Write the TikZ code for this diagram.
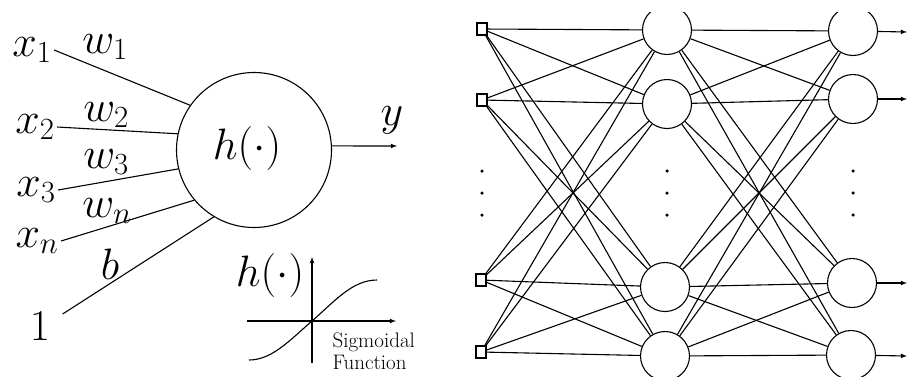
\documentclass[tikz,border=0pt]{standalone}
\usepackage{fix-cm}
\usepackage{tikz}
\usetikzlibrary{positioning}

\begin{document}
\begin{tikzpicture}[>=latex,x=1pt,y=-1pt,line width=1.1pt,
        lbl/.style={inner sep=2pt,font=\fontsize{44}{48}\selectfont},
        neuron/.style={draw,circle,inner sep=0pt,minimum size=49pt},
        inbox/.style={draw,rectangle,inner sep=0pt,minimum width=10pt,minimum height=12pt},
        vdot/.style={circle,fill,inner sep=0pt,minimum size=3.5pt}]
    \useasboundingbox (0,0) rectangle (908,376);

    % single neuron
    \node[draw,circle,inner sep=0pt,minimum size=155pt] (cell) at (254,150) {};
    \node[lbl] (hcell) at (247,148) {$h(\cdot)$};
    \node[lbl] (x1) at (32,50) {$x_1$};
    \node[lbl] (x2) at (35,127) {$x_2$};
    \node[lbl] (x3) at (36,190) {$x_3$};
    \node[lbl] (xn) at (37,241) {$x_n$};
    \node[lbl] (one) at (40,326) {$1$};
    \node[lbl] (w1) at (105,47) {$w_1$};
    \node[lbl] (w2) at (106,115) {$w_2$};
    \node[lbl] (w3) at (106,162) {$w_3$};
    \node[lbl] (wn) at (107,211) {$w_n$};
    \node[lbl] (b) at (110,264) {$b$};
    \node[lbl] (y) at (392,120) {$y$};
    \coordinate (yend) at (397,146);
    \draw (x1.east) -- (cell.145);
    \draw (x2.east) -- (cell.168);
    \draw (x3.east) -- (cell.194);
    \draw (xn.east) -- (cell.220);
    \draw ([xshift=10pt,yshift=12pt]one.east) -- (cell.239);
    \draw[->] (cell.3) -- (yend);

    % sigmoid sketch
    \coordinate (vbot) at (312,363);
    \coordinate (vtop) at (312,257);
    \coordinate (hleft) at (247,321);
    \coordinate (hright) at (396,321);
    \draw[->] (vbot) -- (vtop);
    \draw[->] (hleft) -- (hright);
    \draw (249,360) .. controls (272,360) and (290,340) .. (312,321)
        .. controls (334,302) and (352,280) .. (377,280);
    \node[lbl] (hsig) at (270,275) {$h(\cdot)$};
    \node[anchor=north west,inner sep=0pt,align=left,
        font=\fontsize{21}{22}\selectfont] (sigtxt) at (332,332) {Sigmoidal\\Function};

    % network
    \begin{scope}
        \clip (470,12) rectangle (908,376);
        \foreach \n/\x/\y in {1/482/29,2/482/100,3/481/280,4/481/352}
            \node[inbox] (i\n) at (\x,\y) {};
        \foreach \n/\x/\y in {1/667/30,2/667/104,3/665/287,4/665/356}
            \node[neuron] (h\n) at (\x,\y) {};
        \foreach \n/\x/\y in {1/853/31,2/853/99,3/852/283,4/851/355}
            \node[neuron] (o\n) at (\x,\y) {};
        \foreach \a in {1,...,4}
            \foreach \b in {1,...,4} {
                \draw (i\a) -- (h\b);
                \draw (h\a) -- (o\b);
            }
        \foreach \n/\y in {1/32,2/99,3/283,4/356} {
            \coordinate (e\n) at (907,\y);
            \draw[->] (o\n) -- (e\n);
        }
        \foreach \x [count=\c] in {482,667,853}
            \foreach \y [count=\r] in {171,193,215}
                \node[vdot] (dot\c\r) at (\x,\y) {};
    \end{scope}
\end{tikzpicture}
\end{document}
